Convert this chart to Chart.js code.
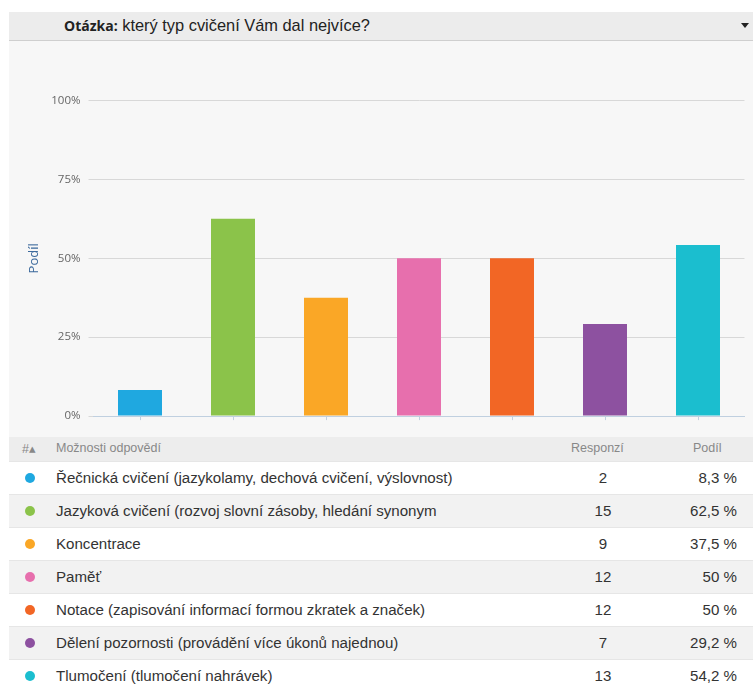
<!DOCTYPE html>
<html lang="cs">
<head>
<meta charset="utf-8">
<script src="https://cdn.jsdelivr.net/npm/chart.js@4/dist/chart.umd.min.js"></script>
<style>
  html, body { margin: 0; padding: 0; background: #fff; }
  body { width: 753px; height: 684px; position: relative; overflow: hidden; font-family: "Liberation Sans", Arial, sans-serif; }
  .head { position: absolute; left: 9px; top: 12px; width: 744px; height: 28px; background: #ececec; border-bottom: 1px solid #cfcfcf; }
  .head .q { position: absolute; left: 55px; top: 4px; font-size: 16.4px; color: #222; white-space: nowrap; }
  .head .q b { font-family: "Open Sans", sans-serif; font-size: 14px; }
  .head .arrow { position: absolute; right: 4px; top: 11px; width: 0; height: 0; border-left: 4px solid transparent; border-right: 4px solid transparent; border-top: 5px solid #222; }
  .chartbox { position: absolute; left: 9px; top: 41px; width: 744px; height: 396px; background: #f7f7f7; }
  canvas { display: block; }
  .row { position: absolute; left: 9px; width: 744px; height: 33px; border-top: 1px solid #e6e6e6; box-sizing: border-box; }
  .row.hd { background: #ededed; height: 24px; top: 437px; border-top: none; }
  .cell { position: absolute; white-space: nowrap; }
  .row .cell { top: 7px; font-size: 15.1px; color: #333; }
  .row.hd .cell { top: 4px; font-size: 12.5px; color: #888; }
  .dot { position: absolute; left: 16px; top: 11px; width: 10px; height: 10px; border-radius: 50%; }
</style>
</head>
<body>
<div class="head"><div class="q"><b>Otázka:</b> který typ cvičení Vám dal nejvíce?</div><div class="arrow"></div></div>
<div class="chartbox"><canvas id="chart" width="744" height="390"></canvas></div>
<div id="table"></div>
<script>
const categories = [
  "Řečnická cvičení (jazykolamy, dechová cvičení, výslovnost)",
  "Jazyková cvičení (rozvoj slovní zásoby, hledání synonym",
  "Koncentrace",
  "Paměť",
  "Notace (zapisování informací formou zkratek a značek)",
  "Dělení pozornosti (provádění více úkonů najednou)",
  "Tlumočení (tlumočení nahrávek)"
];
const responses = [2, 15, 9, 12, 12, 7, 13];
const shares = [8.3, 62.5, 37.5, 50, 50, 29.2, 54.2];
const shareLabels = ["8,3 %", "62,5 %", "37,5 %", "50 %", "50 %", "29,2 %", "54,2 %"];
const colors = ["#1fa8e0", "#8bc34a", "#faa726", "#e76fad", "#f26625", "#8d51a0", "#1bbecf"];
const yTicks = [0, 25, 50, 75, 100];

function renderTable() {
  const t = document.getElementById("table");
  let html = '<div class="row hd">' +
    '<div class="cell" style="left:13px">#&#9652;</div>' +
    '<div class="cell" style="left:47px">Možnosti odpovědí</div>' +
    '<div class="cell" style="left:562px">Responzí</div>' +
    '<div class="cell" style="left:684px">Podíl</div></div>';
  categories.forEach((c, i) => {
    const top = 461 + i * 33;
    const bg = i % 2 === 0 ? "#ffffff" : "#f2f2f2";
    html += `<div class="row" style="top:${top}px;background:${bg}">` +
      `<div class="dot" style="background:${colors[i]}"></div>` +
      `<div class="cell" style="left:47px">${c}</div>` +
      `<div class="cell" style="left:574px;width:40px;text-align:center">${responses[i]}</div>` +
      `<div class="cell" style="right:16px;text-align:right">${shareLabels[i]}</div>` +
      `</div>`;
  });
  t.innerHTML = html;
}
renderTable();

new Chart(document.getElementById("chart").getContext("2d"), {
  type: "bar",
  data: {
    labels: categories,
    datasets: [{
      data: shares,
      backgroundColor: colors,
      barPercentage: 0.473,
      categoryPercentage: 1
    }]
  },
  options: {
    responsive: false,
    animation: false,
    layout: { padding: { left: 17, top: 59.5, right: 8.5, bottom: 0 } },
    plugins: { legend: { display: false }, tooltip: { enabled: false } },
    scales: {
      x: {
        grid: { display: true, drawOnChartArea: false, offset: false, tickLength: 4, color: "#c0d0e0" },
        border: { color: "#c0d0e0" },
        ticks: { display: false },
        afterFit: (s) => { s.height = 10; }
      },
      y: {
        min: 0,
        max: 100,
        afterBuildTicks: (s) => { s.ticks = yTicks.map(v => ({ value: v })); },
        afterFit: (s) => { s.width = 84.5 - 17; },
        grid: { color: "#d8d8d8", tickLength: 5 },
        border: { display: false },
        ticks: {
          padding: 8,
          color: "#666",
          font: { family: "Open Sans", size: 11.5 },
          callback: (v) => v + "%"
        },
        title: {
          display: true,
          text: "Podíl",
          color: "#3d6a9d",
          padding: 0,
          font: { family: "Open Sans", size: 13 }
        }
      }
    }
  }
});
</script>
</body>
</html>
